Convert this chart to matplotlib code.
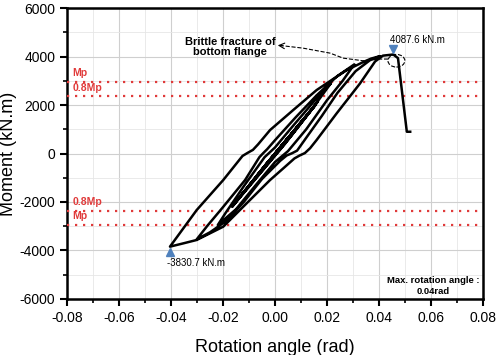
import numpy as np
import matplotlib.pyplot as plt
from matplotlib.patches import Ellipse
from matplotlib.ticker import MultipleLocator

plt.rcParams['font.family'] = ['Liberation Sans', 'DejaVu Sans']
plt.rcParams['axes.unicode_minus'] = False

# digitised hysteresis path, one branch per list
small_rot = [0.0, 0.004, -0.004, 0.005, -0.005, 0.0075, -0.0075, 0.0102, -0.0102,
             0.0155, 0.003, -0.0155, -0.002, 0.0155, 0.002, -0.0155, -0.001,
             0.0165, 0.004, -0.0165, -0.003]
small_m = [0, 500, -520, 650, -660, 960, -980, 1320, -1350,
           2000, 300, -2050, -260, 2000, 250, -2050, -150,
           2150, 420, -2200, -380]

c02_rot = [0.006, 0.014, 0.0215, 0.018, 0.015, 0.007, 0.0, -0.004, -0.012, -0.019, -0.022]
c02_m = [700, 1800, 2900, 2500, 2150, 1150, 250, -150, -1350, -2450, -2950]

c03_load_rot = [-0.015, -0.007, 0.0, 0.005, 0.012, 0.02, 0.026, 0.0305]
c03_load_m = [-2300, -1250, -350, 100, 1000, 2200, 3000, 3680]
c03_unload_rot = [0.027, 0.024, 0.016, 0.008, 0.0, -0.003, -0.0045, -0.006, -0.0115,
                  -0.02, -0.026, -0.0301]
c03_unload_m = [3420, 3200, 2400, 1500, 550, 180, 20, -150, -1093,
                -2212, -2980, -3540]
c03_reload_rot = [-0.025, -0.019, -0.012, -0.005, 0.002, 0.0045, 0.0065, 0.0085, 0.012,
                  0.018, 0.024, 0.031, 0.0365, 0.0404]
c03_reload_m = [-3250, -2800, -2000, -1050, -300, -80, 10, 120, 650,
                1550, 2500, 3400, 3850, 4020]

c04_unload_rot = [0.037, 0.034, 0.0276, 0.022, 0.016, 0.007, -0.0019, -0.0065, -0.0085,
                  -0.0105, -0.0125, -0.0199, -0.0301, -0.0404]
c04_unload_m = [3920, 3780, 3443, 3050, 2619, 1794, 969, 380, 150,
                30, -100, -1093, -2330, -3843]
c04_load_rot = [-0.035, -0.0301, -0.0199, -0.0109, -0.0019, 0.0032, 0.0075, 0.0095, 0.0115,
                0.0135, 0.016, 0.0237, 0.0327, 0.0385, 0.0415, 0.0455, 0.0473, 0.0507, 0.052]
c04_load_m = [-3700, -3567, -3018, -2054, -1093, -610, -200, -80, 20,
              220, 557, 1656, 2893, 3800, 4040, 4088, 3938, 900, 900]

# dashed leader from the fracture point to the note
lead_rot = [0.0435, 0.0404, 0.0338, 0.0262, 0.0212, 0.0108, 0.002]
lead_m = [3900, 3900, 3830, 3938, 4144, 4350, 4460]

mp = 2950
mp08 = 2360

rot = np.array(small_rot + c02_rot + c03_load_rot + c03_unload_rot + c03_reload_rot
               + c04_unload_rot + c04_load_rot)
mom = np.array(small_m + c02_m + c03_load_m + c03_unload_m + c03_reload_m
               + c04_unload_m + c04_load_m)

fig = plt.figure(figsize=(5, 3.55), dpi=100)
ax = fig.add_axes([0.134, 0.158, 0.832, 0.819])

ax.plot(rot, mom, color='black', lw=1.8, solid_joinstyle='round', zorder=4)

red = '#e03a3a'
for v in [mp, mp08, -mp08, -mp]:
    ax.axhline(v, color=red, lw=1.6, ls=(0, (1, 2.6)), zorder=3)
ax.text(-0.078, mp + 150, 'Mp', color=red, fontsize=7.5, fontweight='bold', va='bottom')
ax.text(-0.078, mp08 + 150, '0.8Mp', color=red, fontsize=7.5, fontweight='bold', va='bottom')
ax.text(-0.078, -mp08 + 150, '0.8Mp', color=red, fontsize=7.5, fontweight='bold', va='bottom')
ax.text(-0.078, -mp + 150, 'Mp', color=red, fontsize=7.5, fontweight='bold', va='bottom')

blue = '#4f81bd'
ax.plot(0.0455, 4300, marker='v', color=blue, ms=6, zorder=5)
ax.plot(-0.0404, -4080, marker='^', color=blue, ms=6, zorder=5)
ax.text(0.0442, 4680, '4087.6 kN.m', fontsize=7, va='center')
ax.text(-0.0415, -4515, '-3830.7 kN.m', fontsize=7, va='center')

ax.text(-0.0173, 4400, 'Brittle fracture of\nbottom flange', fontsize=8,
        fontweight='bold', ha='center', va='center', linespacing=1.1)
ax.plot(lead_rot, lead_m, color='black', lw=0.8, ls='--', zorder=5)
ax.annotate('', xy=(0.0, 4474), xytext=(0.004, 4440),
            arrowprops=dict(arrowstyle='->', lw=0.8, color='black'))
ax.add_patch(Ellipse((0.0467, 3830), 0.0065, 520, fill=False, ls='--', lw=0.8,
                     ec='black', zorder=5))

ax.text(0.0608, -5485, 'Max. rotation angle :\n0.04rad', fontsize=6.8,
        fontweight='bold', ha='center', va='center', linespacing=1.3)

ax.set_xlim(-0.08, 0.08)
ax.set_ylim(-6000, 6000)
ax.xaxis.set_major_locator(MultipleLocator(0.02))
ax.xaxis.set_minor_locator(MultipleLocator(0.01))
ax.yaxis.set_major_locator(MultipleLocator(2000))
ax.yaxis.set_minor_locator(MultipleLocator(1000))
ax.xaxis.set_major_formatter(plt.FuncFormatter(lambda v, p: '{:.2f}'.format(v)))
ax.grid(which='major', color='#cfcfcf', lw=0.8)
ax.grid(which='minor', color='#e6e6e6', lw=0.6)
ax.set_axisbelow(True)
ax.tick_params(which='major', direction='out', length=5, width=1.5, labelsize=10)
ax.tick_params(which='minor', direction='out', length=3, width=1.2)
for s in ax.spines.values():
    s.set_linewidth(1.8)

ax.set_xlabel('Rotation angle (rad)', fontsize=13, labelpad=10)
ax.set_ylabel('Moment (kN.m)', fontsize=13, labelpad=2)

fig.savefig('out.png', dpi=100)
